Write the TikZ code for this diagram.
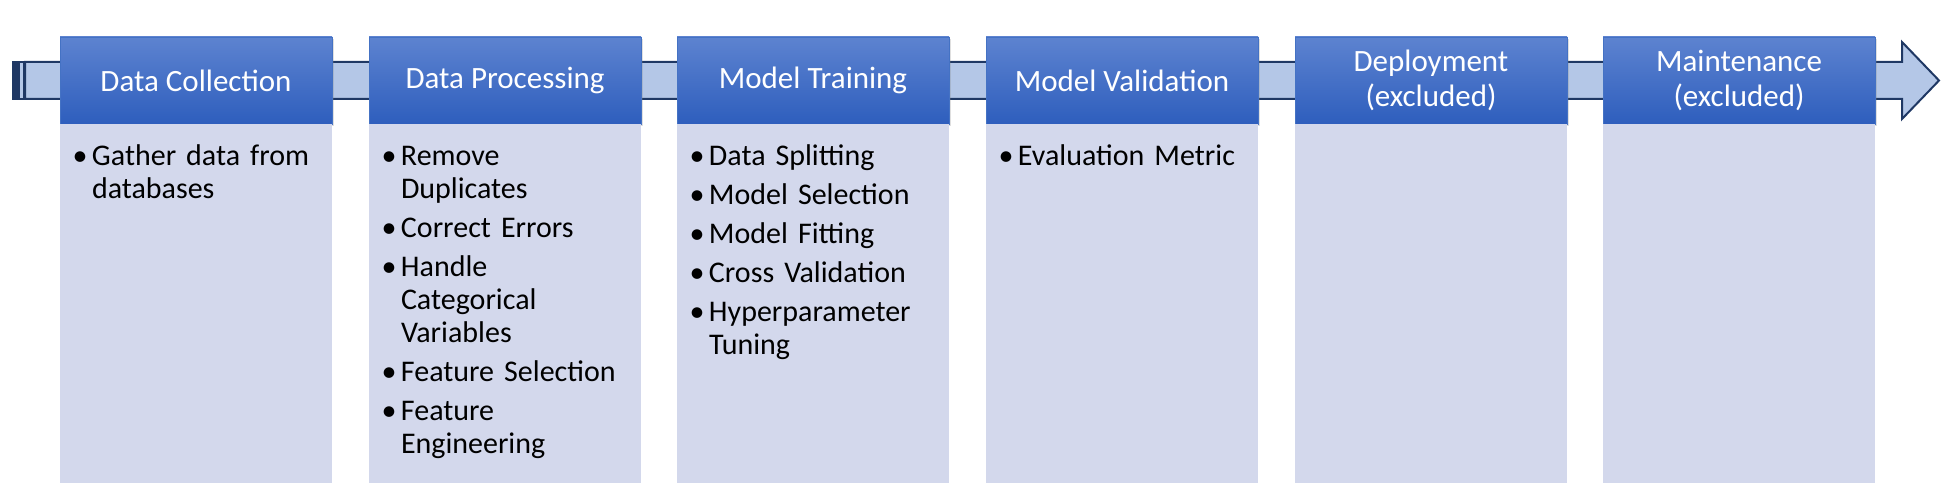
\documentclass[tikz,border=0pt]{standalone}
\usepackage{fontspec}
\setmainfont{Carlito}
\usetikzlibrary{positioning,shadows}

\definecolor{hdrtop}{RGB}{93,131,208}
\definecolor{hdrbot}{RGB}{46,94,189}
\definecolor{hdrline}{RGB}{68,114,196}
\definecolor{bodyfill}{RGB}{211,216,236}
\definecolor{shaftfill}{RGB}{180,199,231}
\definecolor{shaftline}{RGB}{31,56,100}

% one bullet of a stage list
\newcommand{\stepitem}[1]{\par\noindent\rule{0pt}{11.5pt}\llap{\makebox[0pt]{\textbullet}\hspace{6pt}}#1\par\vspace{3pt}}

\tikzset{
  stagehead/.style={minimum width=136pt, minimum height=43.5pt, inner sep=0pt, outer sep=0pt,
    top color=hdrtop, bottom color=hdrbot, draw=hdrline, line width=0.4pt,
    text=white, align=center, font=\fontsize{15.5}{17.5}\selectfont,
    drop shadow={opacity=0.25, shadow xshift=0.8pt, shadow yshift=-0.8pt}},
  stagebody/.style={minimum width=136pt, minimum height=179.5pt, inner sep=0pt, outer sep=0pt, fill=bodyfill},
  stagelist/.style={inner sep=0pt, outer sep=0pt, text width=118pt, align=left,
    font=\fontsize{15}{16.5}\selectfont},
}

\begin{document}
\begin{tikzpicture}[x=0.5pt, y=-0.5pt]
        \useasboundingbox (0,0) rectangle (1947,502) ;
        % the long arrow behind the stages
        \draw[fill=shaftfill, draw=shaftline, line width=1pt] (25,62) -- (1902,62) -- (1902,42) -- (1939,80.5) -- (1902,119) -- (1902,99) -- (25,99) -- cycle ;
        \draw[fill=shaftline, draw=shaftline, line width=0.6pt] (13,62) rectangle (17,99) ;
        \draw[fill=shaftfill, draw=shaftline, line width=1pt] (18.5,62) rectangle (23.5,99) ;
        % headers
        \node[stagehead] (dc) at (196,80.5) {Data Collection} ;
        \node[stagehead] (dp) at (505,80.5) {Data Processing} ;
        \node[stagehead] (mt) at (813,80.5) {Model Training} ;
        \node[stagehead] (mv) at (1122,80.5) {Model Validation} ;
        \node[stagehead] (dep) at (1431,80.5) {Deployment\\(excluded)} ;
        \node[stagehead] (mnt) at (1739,80.5) {Maintenance\\(excluded)} ;
        % bodies
        \node[stagebody, below=0pt of dc] (dc-box) {} ;
        \node[stagebody, below=0pt of dp] (dp-box) {} ;
        \node[stagebody, below=0pt of mt] (mt-box) {} ;
        \node[stagebody, below=0pt of mv] (mv-box) {} ;
        \node[stagebody, below=0pt of dep] (dep-box) {} ;
        \node[stagebody, below=0pt of mnt] (mnt-box) {} ;
        % lists
        \node[stagelist, below right=4.5pt and 16pt of dc-box.north west] (dc-txt) {\stepitem{Gather data from\newline databases}} ;
        \node[stagelist, below right=4.5pt and 16pt of dp-box.north west] (dp-txt) {\stepitem{Remove\newline Duplicates}\stepitem{Correct Errors}\stepitem{Handle\newline Categorical\newline Variables}\stepitem{Feature Selection}\stepitem{Feature\newline Engineering}} ;
        \node[stagelist, below right=4.5pt and 16pt of mt-box.north west] (mt-txt) {\stepitem{Data Splitting}\stepitem{Model Selection}\stepitem{Model Fitting}\stepitem{Cross Validation}\stepitem{Hyperparameter\newline Tuning}} ;
        \node[stagelist, below right=4.5pt and 16pt of mv-box.north west] (mv-txt) {\stepitem{Evaluation Metric}} ;
\end{tikzpicture}
\end{document}
